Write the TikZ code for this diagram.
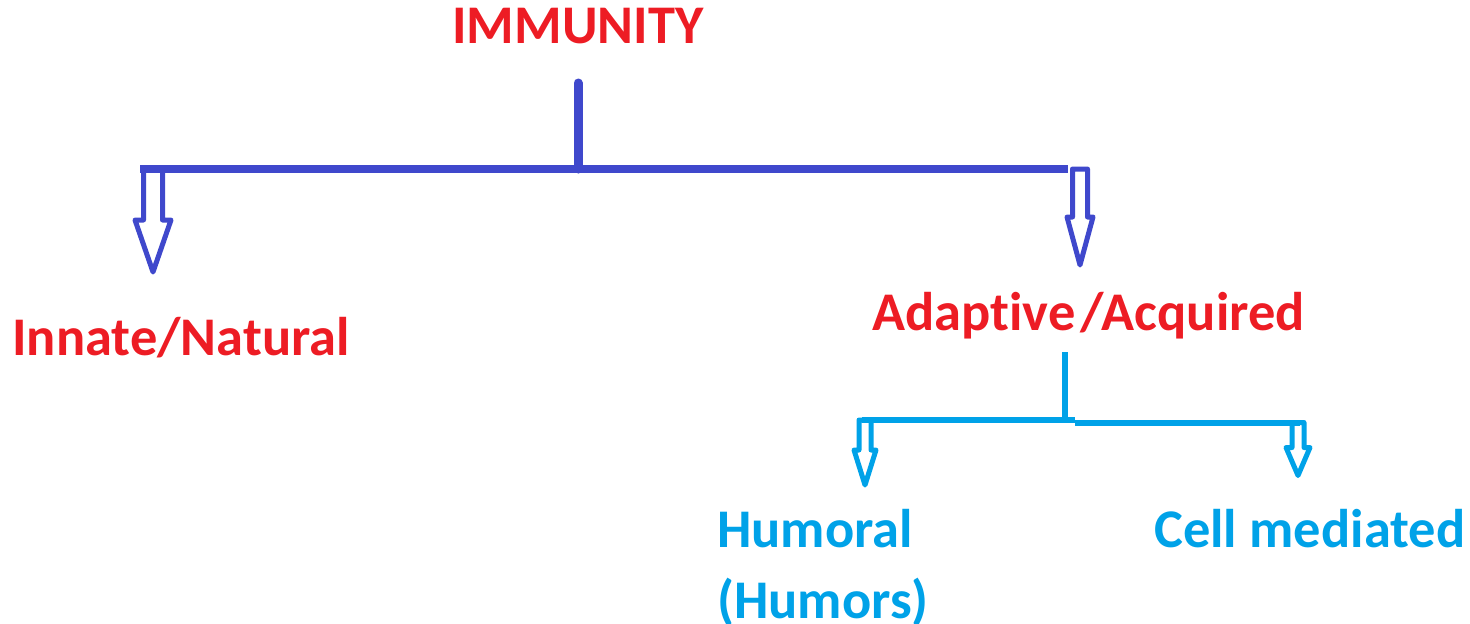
\documentclass[tikz,border=0pt]{standalone}
\usepackage{fontspec}
\setmainfont{Carlito}[Ligatures=NoCommon]
\definecolor{pred}{HTML}{ED1C24}
\definecolor{pblue}{HTML}{3F48CC}
\definecolor{pcyan}{HTML}{00A2E8}
% hollow down arrow: colour, top point, shaft half width, head half width, shaft length, head length
\newcommand{\hollowarrow}[6]{%
  \draw[#1,line width=0.1cm,fill=white,line join=round]
    (#2) ++(-#3,0) -- ++(0,#5) -- ++(#3-#4,0) -- ++(#4,#6) -- ++(#4,-#6)
    -- ++(#3-#4,0) -- ++(0,-#5) -- cycle;}

\begin{document}
\begin{tikzpicture}[x=0.02cm,y=-0.02cm,
  lab/.style={font=\bfseries\fontsize{31}{40.4}\selectfont,inner sep=0pt,anchor=base west}]
\useasboundingbox (0,0) rectangle (1470,623);

\node[lab,text=pred] (immunity) at (452,43) {IMMUNITY};
\node[lab,text=pred] (innate) at (12,355) {Innate/Natural};
\node[lab,text=pred] (adaptive) at (872,330) {Adaptive\kern3pt/Acquired};
\node[lab,text=pcyan,align=left] (humoral) at (717,618) {Humoral\\(Humors)};
\node[lab,text=pcyan] (cell) at (1154,547) {Cell mediated};

% first level
\coordinate (top) at (578,83);
\coordinate (mid) at (578,169);
\coordinate (barL) at (140,169);
\coordinate (barR) at (1068,169);
\coordinate (armL) at (153,169);
\coordinate (armR) at (1080,169);
\hollowarrow{pblue}{armL}{9.5}{18}{51}{52}
\hollowarrow{pblue}{armR}{7.5}{13}{48}{48}
\draw[pblue,line width=0.17cm] (barL) -- (barR);
\draw[pblue,line width=0.18cm,line cap=round] (top) -- (mid);

% second level
\coordinate (top2) at (1064.5,352);
\coordinate (mid2) at (1064.5,420);
\coordinate (barL2) at (862,420);
\coordinate (kink) at (1075,420);
\coordinate (kink2) at (1075,422.5);
\coordinate (barR2) at (1300,422.5);
\hollowarrow{pcyan}{865,420}{6}{11}{30}{35}
\hollowarrow{pcyan}{1298,422.5}{6}{12}{25}{28}
\draw[pcyan,line width=0.12cm] (barL2) -- (kink);
\draw[pcyan,line width=0.12cm] (kink2) -- (barR2);
\draw[pcyan,line width=0.12cm] (top2) -- (mid2);
\end{tikzpicture}
\end{document}
